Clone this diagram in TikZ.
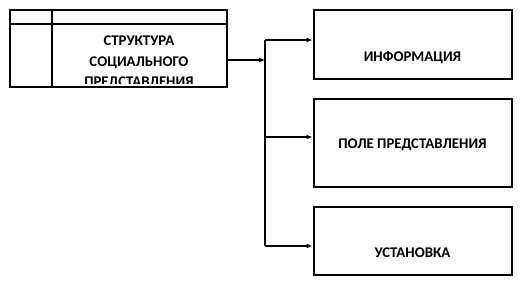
\documentclass[tikz,border=0pt]{standalone}
\usepackage{fontspec}
\setmainfont{Carlito}
\usetikzlibrary{arrows.meta}
\begin{document}
\begin{tikzpicture}[x=1pt,y=-1pt,
  box/.style={draw,line width=2pt,minimum width=#1,inner sep=0pt,rectangle},
  lbl/.style={font=\fontsize{14.8}{20.5}\selectfont\bfseries,align=center,inner sep=0pt},
  arr/.style={line width=1.4pt,-{Latex[length=6pt,width=5pt]}},
  ln/.style={line width=1.4pt}]
\useasboundingbox (0,0) rectangle (522,286);
% left table box
\node[box=217pt,minimum height=77pt] (L) at (118.5,49) {};
\draw[line width=2pt] (10,24) -- (227,24);
\draw[line width=2pt] (52,10.5) -- (52,87.5);
\begin{scope}
\clip (53,25) rectangle (226,84);
\node[lbl,anchor=north] (Lt) at (139,36) {СТРУКТУРА\\СОЦИАЛЬНОГО\\ПРЕДСТАВЛЕНИЯ};
\end{scope}
% right boxes
\node[box=198pt,minimum height=69pt] (R1) at (412.5,44.5) {};
\node[lbl] (T1) at (412.5,58) {ИНФОРМАЦИЯ};
\node[box=198pt,minimum height=88pt] (R2) at (412.5,143) {};
\node[lbl] (T2) at (412.5,145) {ПОЛЕ ПРЕДСТАВЛЕНИЯ};
\node[box=198pt,minimum height=68pt] (R3) at (412.5,241) {};
\node[lbl] (T3) at (412.5,253) {УСТАНОВКА};
% connectors
\coordinate (j) at (265,60);
\coordinate (a) at (265,40);
\coordinate (b) at (265,137);
\coordinate (c) at (265,246);
\draw[arr] (L.east |- j) -- (j);
\draw[ln] (a) -- (c);
\draw[arr] (a) -- (a -| R1.west);
\draw[arr] (b) -- (b -| R2.west);
\draw[arr] (c) -- (c -| R3.west);
\end{tikzpicture}
\end{document}
